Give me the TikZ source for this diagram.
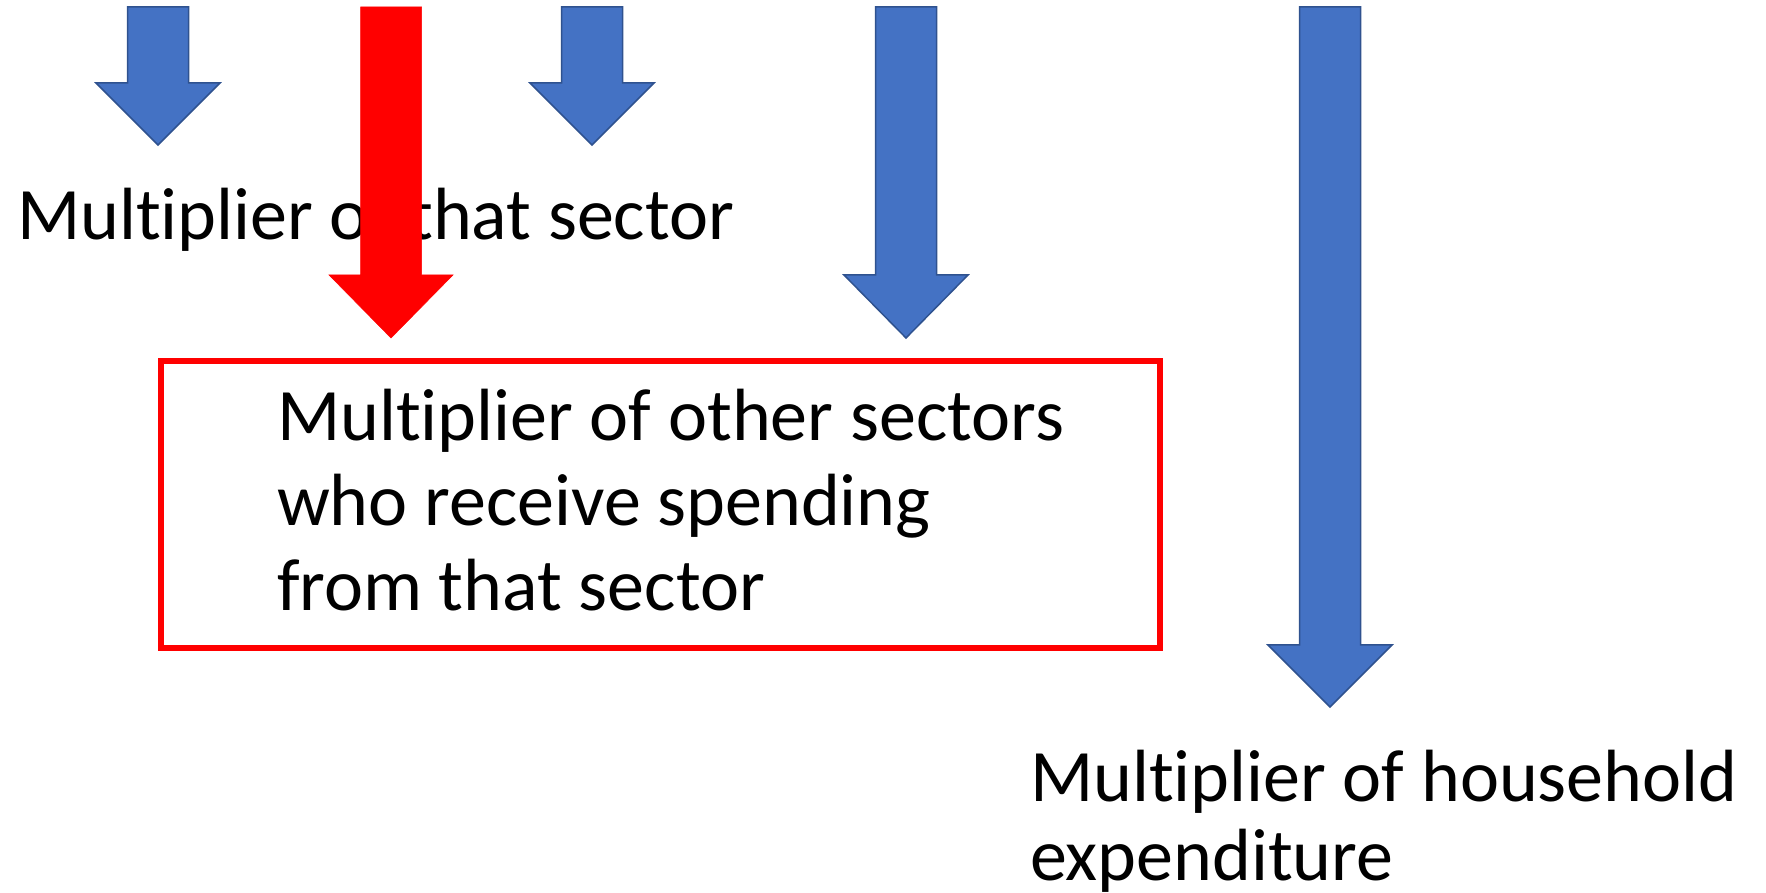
\documentclass[tikz,border=0pt]{standalone}
\usepackage{fontspec}
\setmainfont{Carlito}[Ligatures=NoCommon]
\definecolor{arrblue}{HTML}{4472C4}
\definecolor{arrline}{HTML}{2F528F}
\newcommand\DownArr[5]{%
  \draw[#5] (#1-30.5,893-#2) -- (#1+30.5,893-#2) -- (#1+30.5,893-#3) -- (#1+62,893-#3)
    -- (#1,893-#4) -- (#1-62,893-#3) -- (#1-30.5,893-#3) -- cycle;}
\begin{document}
\begin{tikzpicture}[x=1pt,y=1pt,
  bluearr/.style={fill=arrblue,draw=arrline,line width=1.5pt,line join=miter},
  redarr/.style={fill=red,draw=red,line width=0.5pt},
  txt/.style={inner sep=0pt,outer sep=0pt,anchor=base west,align=left,font=\fontsize{74}{85}\selectfont},
  redbox/.style={draw=red,line width=6pt,fill=white}]
\useasboundingbox (0,0) rectangle (1766,893);
\node[txt] (that) at (17,653) {Multiplier of that sector};
\DownArr{158}{7}{83}{145}{bluearr}
\DownArr{592}{7}{83}{145}{bluearr}
\DownArr{391}{7}{275}{338}{redarr}
\DownArr{906}{7}{275}{338}{bluearr}
\DownArr{1330}{7}{645}{707}{bluearr}
\draw[redbox] (161,532) rectangle (1160,245);
\node[txt] (other) at (277,282) {Multiplier of other sectors\\who receive spending\\from that sector};
\node[txt,font=\fontsize{74}{79}\selectfont] (house) at (1030,12) {Multiplier of household\\expenditure};
\end{tikzpicture}
\end{document}
